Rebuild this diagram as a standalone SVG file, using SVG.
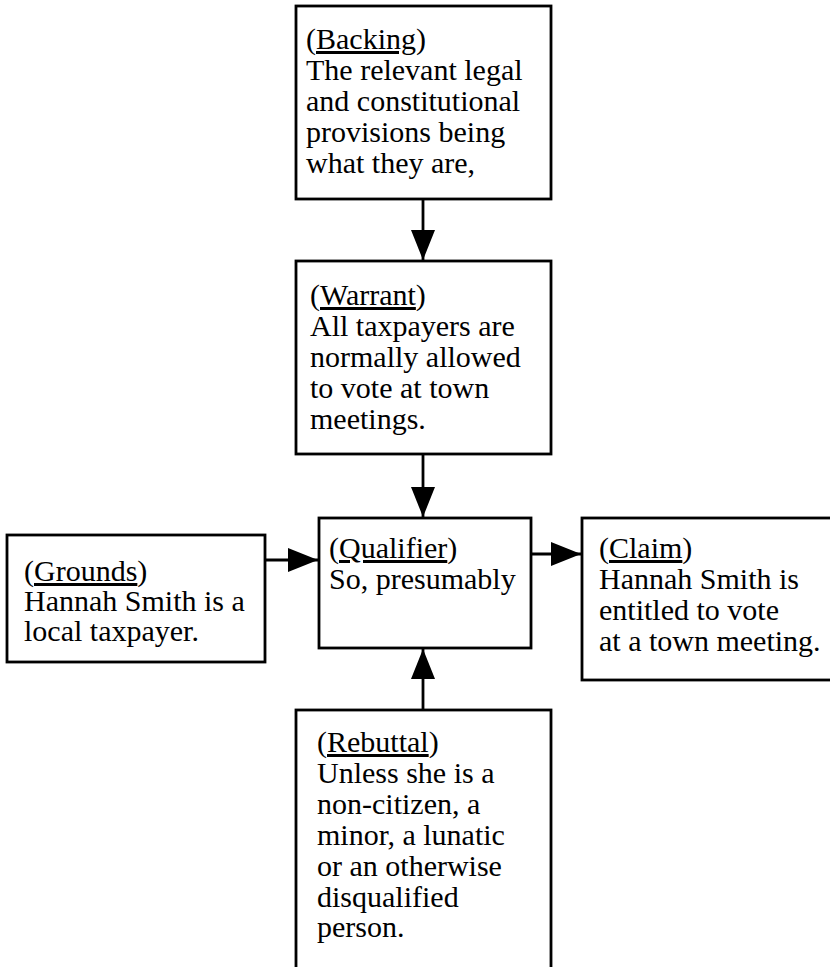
<svg xmlns="http://www.w3.org/2000/svg" width="830" height="967" viewBox="0 0 830 967">
<defs>
<style>
.box{fill:#fff;stroke:#000;stroke-width:2.8}
.t{font-family:"Liberation Serif","Times New Roman",serif;font-size:30px;fill:#000}
.u{text-decoration:underline}
.c{stroke:#000;stroke-width:2.8;fill:none}
</style>
<marker id="ah" markerUnits="userSpaceOnUse" markerWidth="30" markerHeight="24" viewBox="0 0 30 24" refX="30" refY="12" orient="auto">
<path d="M0,0 L30,12 L0,24 Z" fill="#000"/>
</marker>
</defs>
<rect width="830" height="967" fill="#fff"/>
<g id="backing">
<rect class="box" x="296" y="6" width="255" height="193"/>
<text class="t" x="306"><tspan x="306" y="49">(<tspan class="u">Backing</tspan>)</tspan><tspan x="306" y="80">The relevant legal</tspan><tspan x="306" y="111">and constitutional</tspan><tspan x="306" y="142">provisions being</tspan><tspan x="306" y="173">what they are,</tspan></text>
</g>
<g id="warrant">
<rect class="box" x="296" y="261" width="255" height="193"/>
<text class="t"><tspan x="310" y="305">(<tspan class="u">Warrant</tspan>)</tspan><tspan x="310" y="336">All taxpayers are</tspan><tspan x="310" y="367">normally allowed</tspan><tspan x="310" y="398">to vote at town</tspan><tspan x="310" y="429">meetings.</tspan></text>
</g>
<g id="qualifier">
<rect class="box" x="319" y="518" width="212" height="130"/>
<text class="t"><tspan x="329" y="558">(<tspan class="u">Qualifier</tspan>)</tspan><tspan x="329" y="589">So, presumably</tspan></text>
</g>
<g id="grounds">
<rect class="box" x="7" y="535" width="258" height="127"/>
<text class="t"><tspan x="24" y="581">(<tspan class="u">Grounds</tspan>)</tspan><tspan x="24" y="611">Hannah Smith is a</tspan><tspan x="24" y="641">local taxpayer.</tspan></text>
</g>
<g id="claim">
<rect class="box" x="582" y="518" width="260" height="162"/>
<text class="t"><tspan x="599" y="558">(<tspan class="u">Claim</tspan>)</tspan><tspan x="599" y="589">Hannah Smith is</tspan><tspan x="599" y="620">entitled to vote</tspan><tspan x="599" y="651">at a town meeting.</tspan></text>
</g>
<g id="rebuttal">
<rect class="box" x="296" y="710" width="255" height="270"/>
<text class="t"><tspan x="317" y="752">(<tspan class="u">Rebuttal</tspan>)</tspan><tspan x="317" y="783">Unless she is a</tspan><tspan x="317" y="814">non-citizen, a</tspan><tspan x="317" y="845">minor, a lunatic</tspan><tspan x="317" y="876">or an otherwise</tspan><tspan x="317" y="907">disqualified</tspan><tspan x="317" y="937">person.</tspan></text>
</g>
<g id="connectors">
<line class="c" x1="423" y1="199" x2="423" y2="260" marker-end="url(#ah)"/>
<line class="c" x1="423" y1="454" x2="423" y2="517" marker-end="url(#ah)"/>
<line class="c" x1="265" y1="560" x2="318" y2="560" marker-end="url(#ah)"/>
<line class="c" x1="531" y1="554" x2="581" y2="554" marker-end="url(#ah)"/>
<line class="c" x1="423" y1="710" x2="423" y2="649" marker-end="url(#ah)"/>
</g>
</svg>
